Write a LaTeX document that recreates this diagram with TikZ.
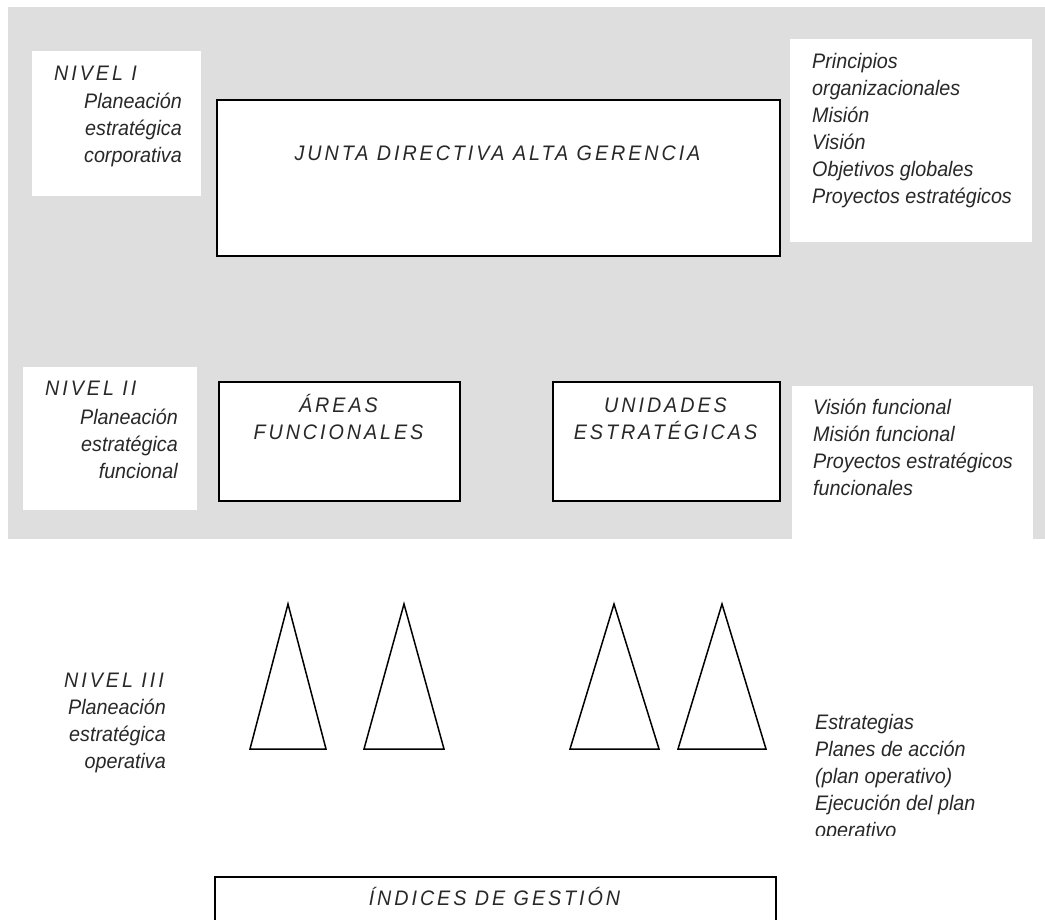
\documentclass[tikz,border=0pt]{standalone}
\usepackage{fontspec}
\setmainfont{Liberation Sans}[FakeStretch=0.94]
\newfontfamily\capsfont{Liberation Sans}[FakeStretch=0.94, LetterSpace=14]
\definecolor{bg}{RGB}{222,222,222}
\definecolor{ink}{RGB}{40,40,40}
\tikzset{
  txt/.style={font=\fontsize{21}{27}\selectfont\itshape, text=ink, inner sep=0pt},
  captxt/.style={font=\capsfont\fontsize{21}{27}\selectfont\itshape, text=ink, inner sep=0pt},
  panel/.style={fill=white, draw=none, inner sep=0pt, anchor=north west},
  box/.style={draw=black, line width=2pt, fill=white, inner sep=0pt, anchor=north west},
  cone/.style={draw=black, line width=1.5pt, line join=miter, fill=white}
}
% multi-line nodes below are placed by the baseline of their last line
\begin{document}
\begin{tikzpicture}[x=1pt, y=-1pt]
\useasboundingbox (0,0) rectangle (1045,920);
\clip (0,0) rectangle (1045,920);

% shaded band holding levels I and II
\fill[bg] (8,7) rectangle (1045,539);

% ---------- Level I ----------
\node[panel, minimum width=169pt, minimum height=145pt] (p1) at (32,51) {};
\node[captxt, anchor=base west] (n1) at (54,80.5) {NIVEL I};
\node[txt, anchor=base east, align=right] (n1t) at (182,163) {Planeación\\estratégica\\corporativa};

\node[box, minimum width=563pt, minimum height=156pt] (junta) at (216,99) {};
\node[captxt, anchor=base] (juntat) at (497.5,160.5) {JUNTA DIRECTIVA ALTA GERENCIA};

\node[panel, minimum width=242pt, minimum height=203pt] (r1) at (790,39) {};
\node[txt, anchor=base west, align=left] (r1t) at (812,204) {Principios\\organizacionales\\Misión\\Visión\\Objetivos globales\\Proyectos estratégicos};

% ---------- Level II ----------
\node[panel, minimum width=174pt, minimum height=143pt] (p2) at (23,367) {};
\node[captxt, anchor=base west] (n2) at (45,395.5) {NIVEL II};
\node[txt, anchor=base east, align=right] (n2t) at (178,478) {Planeación\\estratégica\\funcional};

\node[box, minimum width=241pt, minimum height=119pt] (areas) at (218,381) {};
\node[captxt, anchor=base, align=center] (areast) at (338.5,439.5) {ÁREAS\\FUNCIONALES};

\node[box, minimum width=227pt, minimum height=119pt] (unid) at (552,381) {};
\node[captxt, anchor=base, align=center] (unidt) at (665.5,439.5) {UNIDADES\\ESTRATÉGICAS};

\node[panel, minimum width=241pt, minimum height=153pt] (r2) at (792,386) {};
\node[txt, anchor=base west, align=left] (r2t) at (813,495) {Visión funcional\\Misión funcional\\Proyectos estratégicos\\funcionales};

% ---------- Level III ----------
\node[captxt, anchor=base west] (n3) at (64,687.5) {NIVEL III};
\node[txt, anchor=base east, align=right] (n3t) at (166,768) {Planeación\\estratégica\\operativa};

\coordinate (a1) at (288,604); \coordinate (a2) at (404,604);
\coordinate (a3) at (614,604); \coordinate (a4) at (722,604);
\draw[cone] (a1) -- (326,749) -- (250,749) -- cycle;
\draw[cone] (a2) -- (444,749) -- (364,749) -- cycle;
\draw[cone] (a3) -- (659,749) -- (570,749) -- cycle;
\draw[cone] (a4) -- (766,749) -- (678,749) -- cycle;

\begin{scope}
  \clip (790,700) rectangle (1045,835);
  \node[txt, anchor=base west, align=left] (r3t) at (815,837) {Estrategias\\Planes de acción\\(plan operativo)\\Ejecución del plan\\operativo};
\end{scope}

% ---------- management indicators ----------
\node[box, minimum width=561pt, minimum height=80pt] (indices) at (214,876) {};
\node[captxt, anchor=base] (indicest) at (494.5,905.5) {ÍNDICES DE GESTIÓN};
\end{tikzpicture}
\end{document}
